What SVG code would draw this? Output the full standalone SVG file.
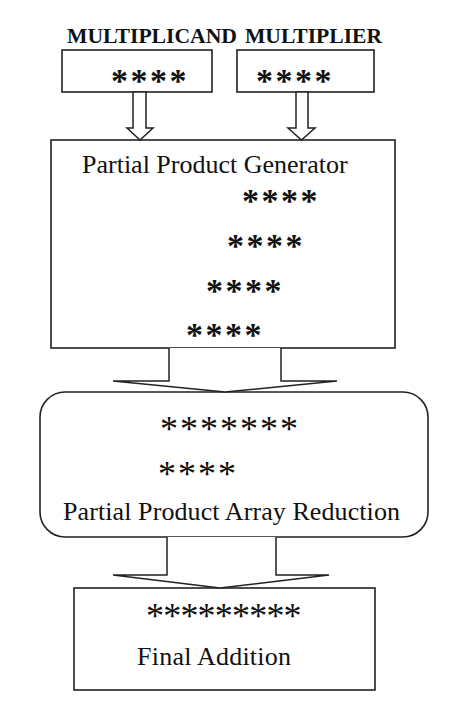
<svg xmlns="http://www.w3.org/2000/svg" width="476" height="706" viewBox="0 0 476 706">
<style>
.box{fill:#fff;stroke:#222;stroke-width:1.6}
.arr{fill:#fff;stroke:#222;stroke-width:1.5;stroke-linejoin:miter}
.lbl{font-family:"Liberation Serif","Times New Roman",serif;font-size:26px;fill:#111}
.hdr{font-family:"Liberation Serif","Times New Roman",serif;font-size:21px;font-weight:bold;fill:#111}
.ast{font-family:"Liberation Serif","Times New Roman",serif;font-size:36px;fill:#111}
.astb{font-family:"Liberation Serif","Times New Roman",serif;font-size:34px;font-weight:bold;fill:#111}
</style>
<rect width="476" height="706" fill="#fff"/>
<g id="headers">
<text class="hdr" x="67" y="43" textLength="170" lengthAdjust="spacingAndGlyphs">MULTIPLICAND</text>
<text class="hdr" x="245" y="43" textLength="137" lengthAdjust="spacingAndGlyphs">MULTIPLIER</text>
</g>
<g id="multiplicand">
<rect class="box" x="62" y="50" width="150" height="42"/>
<text class="astb" x="111" y="92" letter-spacing="2.5">****</text>
</g>
<g id="multiplier">
<rect class="box" x="237" y="50" width="137" height="42"/>
<text class="astb" x="256" y="92" letter-spacing="2.5">****</text>
</g>
<g id="ppg">
<rect class="box" x="51" y="140" width="344" height="208"/>
<text class="lbl" x="82" y="173">Partial Product Generator</text>
<text class="astb" x="242" y="212" letter-spacing="2.5">****</text>
<text class="astb" x="227" y="257" letter-spacing="2.5">****</text>
<text class="astb" x="206" y="302" letter-spacing="2.5">****</text>
<text class="astb" x="186" y="346" letter-spacing="2.5">****</text>
</g>
<g id="ppar">
<rect class="box" x="40" y="392" width="388" height="145" rx="25" ry="25"/>
<text class="ast" x="160" y="441" letter-spacing="2">*******</text>
<text class="ast" x="158" y="486" letter-spacing="2">****</text>
<text class="lbl" x="63" y="520" textLength="337">Partial Product Array Reduction</text>
</g>
<g id="final">
<rect class="box" x="74" y="588" width="301" height="102"/>
<text class="ast" x="146" y="628" letter-spacing="-0.8">*********</text>
<text class="lbl" x="137" y="665" textLength="154">Final Addition</text>
</g>
<g id="connectors">
<polygon class="arr" points="133,92 146,92 146,128 153,128 140,140 127,128 133,128"/>
<polygon class="arr" points="296,92 308,92 308,128 315,128 301.5,140 288,128 296,128"/>
<polyline class="arr" points="169,348 169,381 113,381 225,392 337,381 281,381 281,348"/>
<polyline class="arr" points="167,537 167,575 113,575 220,588 329,575 276,575 276,537"/>
</g>
</svg>
